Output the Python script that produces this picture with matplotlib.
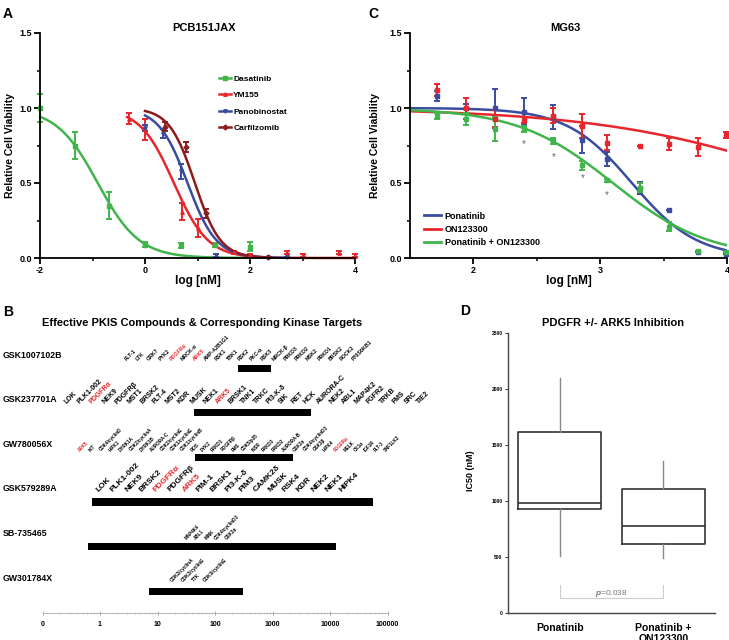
import numpy as np
import matplotlib.pyplot as plt
from matplotlib import transforms
from matplotlib.lines import Line2D

plt.rcParams['font.family'] = ['Liberation Sans', 'DejaVu Sans']
plt.rcParams['font.weight'] = 'bold'
plt.rcParams['axes.labelweight'] = 'bold'
plt.rcParams['axes.unicode_minus'] = False
plt.rcParams['mathtext.fontset'] = 'custom'
plt.rcParams['mathtext.it'] = 'Liberation Sans:italic'
plt.rcParams['mathtext.rm'] = 'Liberation Sans'

W, H = 729, 640

# ---- panel A: PCB151JAX dose response ----
a_drugs = ['Dasatinib', 'YM155', 'Panobinostat', 'Carfilzomib']
a_colors = ['#3fb54b', '#e8262b', '#3a4ca0', '#8b1d1f']
a_markers = ['s', '^', 'v', 'D']
a_logic50 = [-0.9, 0.55, 0.81, 0.95]
a_hill = [1.1, 1.34, 1.58, 1.78]
a_curve_lo = [-2.0, -0.34, 0.0, 0.0]
a_curve_hi = [2.0, 4.0, 2.7, 2.4]
a_x = [[-2, -1.33, -0.69, 0, 0.68, 1.34, 2],
       [-0.3, 0, 0.7, 1.0, 1.7, 2.0, 2.7, 3.0, 3.7, 4.0],
       [0, 0.35, 0.68, 1.35, 2.35, 2.7],
       [0.38, 0.78, 1.17, 2.35]]
a_y = [[1.0, 0.75, 0.35, 0.09, 0.085, 0.085, 0.075],
       [0.93, 0.86, 0.31, 0.2, 0.04, 0.02, 0.035, 0.02, 0.035, 0.015],
       [0.87, 0.83, 0.58, 0.02, 0.005, 0.005],
       [0.875, 0.74, 0.3, 0.005]]
a_err = [[0.095, 0.09, 0.09, 0.015, 0.015, 0.012, 0.03],
         [0.035, 0.07, 0.055, 0.06, 0.01, 0.01, 0.01, 0.01, 0.01, 0.01],
         [0.02, 0.03, 0.05, 0.01, 0, 0],
         [0.03, 0.035, 0.03, 0]]

# ---- panel C: MG63 dose response ----
c_drugs = ['Ponatinib', 'ON123300', 'Ponatinib + ON123300']
c_colors = ['#3a4ca0', '#e8262b', '#3fb54b']
c_logic50 = [3.25, 4.8, 3.1]
c_hill = [1.7, 0.5, 1.15]
c_x = [1.71, 1.94, 2.17, 2.4, 2.63, 2.86, 3.05, 3.31, 3.54, 3.77, 3.99]
c_y = [[1.08, 1.0, 1.0, 0.975, 0.94, 0.79, 0.66, 0.47, 0.32, 0.04, 0.03],
       [1.12, 1.0, 0.93, 0.92, 0.95, 0.88, 0.77, 0.75, 0.76, 0.74, 0.82],
       [0.95, 0.93, 0.86, 0.86, 0.78, 0.62, 0.52, 0.47, 0.21, 0.05, 0.04]]
c_err = [[0.03, 0.03, 0.13, 0.09, 0.08, 0.09, 0.045, 0.04, 0, 0, 0],
         [0.04, 0.07, 0.06, 0.02, 0.05, 0.08, 0.05, 0, 0.04, 0.06, 0.02],
         [0.02, 0.04, 0.08, 0.02, 0.02, 0.03, 0.01, 0.03, 0.03, 0, 0]]
star_x = [2.4, 2.63, 2.86, 3.05]
star_y = [0.76, 0.67, 0.53, 0.42]

# ---- panel B: effective PKIS compounds ----
compounds = ['GSK1007102B', 'GSK237701A', 'GW780056X', 'GSK579289A', 'SB-735465', 'GW301784X']
range_lo = [250, 43, 45, 0.72, 0.62, 7.1]
range_hi = [940, 4700, 2280, 56000, 12700, 310]
kinases = [
    ['FLT-1', 'LTK', 'GRK7', 'PYK2', 'PDGFRα', 'MRCK-α', 'ARK5', 'AMP-A2B1G1', 'RSK1', 'TBK1',
     'RSK2', 'PKC-α', 'RSK3', 'MRCK-β', 'PRKD3', 'PRKD2', 'MSK2', 'PRKD1', 'BRSK2', 'ROCK2', 'P70S6KB1'],
    ['LOK', 'PLK1-002', 'PDGFRα', 'NEK9', 'PDGFRβ', 'MST1', 'BRSK2', 'FLT-4', 'MST2', 'KDR',
     'MUSK', 'NEK1', 'ARK5', 'BRSK1', 'TNK1', 'TRKC', 'PI3-K-δ', 'SIK', 'RET', 'HCK',
     'AURORA-C', 'NEK2', 'ABL1', 'MAP4K2', 'FGFR2', 'TRKB', 'FMS', 'SRC', 'TIE2'],
    ['ARK5', 'KIT', 'CDK4/cyclinD', 'HIPK1', 'DYRK1A', 'CDK2/cyclinA', 'DYRK1B', 'AURORA-C',
     'CDK2/cyclinE', 'CDK1/cyclinE', 'CDK1/cyclinB', 'ROS', 'PYK2', 'PRKD1', 'PDGFRβ', 'FMS',
     'CDK5/p35', 'INSR', 'PRKD3', 'PRKD2', 'AURORA-B', 'GSK3α', 'CDK4/cyclinD3', 'GSK3β',
     'HIPK4', 'PDGFRα', 'MELK', 'CK1α', 'IGF1R', 'FLT-3', 'SNF1LK2'],
    ['LOK', 'PLK1-002', 'NEK9', 'BRSK2', 'PDGFRα', 'PDGFRβ', 'ARK5', 'PIM-1', 'BRSK1',
     'PI3-K-δ', 'PIM3', 'CAMK2δ', 'MUSK', 'RSK4', 'KDR', 'NEK2', 'NEK1', 'HIPK4'],
    ['MAP4K4', 'ABL1', 'MINK', 'CDK4/cyclinD3', 'GSK3α'],
    ['CDK2/cyclinA', 'CDK2/cyclinE', 'TTK', 'CDK3/cyclinE'],
]
highlight = ['PDGFRα', 'ARK5']
b_ticks = [0.1, 1, 10, 100, 1000, 10000, 100000]
b_ticklabels = ['0', '1', '10', '100', '1000', '10000', '100000']

# ---- panel D: IC50 box plot ----
d_groups = ['Ponatinib', 'Ponatinib +\nON123300']
d_q1 = [930, 615]
d_med = [985, 780]
d_q3 = [1615, 1110]
d_lo = [510, 490]
d_hi = [2100, 1360]
p_text = r'$\it{p}$=0.038'


def hill(x, logic50, h):
    return 1.0 / (1.0 + 10 ** ((x - logic50) * h))


fig = plt.figure(figsize=(W / 100, H / 100), dpi=100)


def px_axes(l, t, r, b):
    return fig.add_axes([l / W, 1 - b / H, (r - l) / W, (b - t) / H])


def ftext(x, y, s, **kw):
    fig.text(x / W, 1 - y / H, s, **kw)


def style_curve_axes(ax):
    for s in ['top', 'right']:
        ax.spines[s].set_visible(False)
    for s in ['left', 'bottom']:
        ax.spines[s].set_linewidth(1.3)
    ax.tick_params(which='major', length=4, width=1.3, labelsize=6.5, pad=2)
    ax.tick_params(which='minor', length=2.5, width=1.1)
    ax.set_ylim(0, 1.5)
    ax.set_yticks([0, 0.5, 1.0, 1.5])
    ax.set_yticklabels(['0.0', '0.5', '1.0', '1.5'])
    ax.set_yticks([0.25, 0.75, 1.25], minor=True)
    ax.set_ylabel('Relative Cell Viability', fontsize=7.5)
    ax.set_xlabel('log [nM]', fontsize=8.5, labelpad=0)


# A
axA = px_axes(40, 33, 355, 258)
handles = []
for i, drug in enumerate(a_drugs):
    xs = np.linspace(a_curve_lo[i], a_curve_hi[i], 200)
    axA.plot(xs, hill(xs, a_logic50[i], a_hill[i]), color=a_colors[i], lw=1.8, clip_on=False)
    axA.errorbar(a_x[i], a_y[i], yerr=a_err[i], fmt=a_markers[i], ms=2.5, color=a_colors[i],
                 elinewidth=1.4, capsize=2, capthick=1.4, clip_on=False)
    handles.append(Line2D([], [], color=a_colors[i], lw=1.8, marker=a_markers[i], ms=2.5))
axA.set_xlim(-2, 4)
axA.set_xticks([-2, 0, 2, 4])
axA.set_xticks([-1, 1, 3], minor=True)
style_curve_axes(axA)
axA.yaxis.set_label_coords(-0.08, 0.5)
axA.legend(handles, a_drugs, loc='upper left', bbox_to_anchor=(0.555, 0.83), frameon=False,
           fontsize=6, handlelength=1.4, handletextpad=0.3, labelspacing=1.0, borderpad=0)
ftext(204, 28, 'PCB151JAX', fontsize=8, ha='center', va='center')
ftext(3, 14, 'A', fontsize=10, ha='left', va='center')

# C
axC = px_axes(410, 33, 727, 258)
xs = np.linspace(1.5, 4, 200)
handles = []
for i, drug in enumerate(c_drugs):
    axC.plot(xs, hill(xs, c_logic50[i], c_hill[i]), color=c_colors[i], lw=1.8)
    axC.errorbar(c_x, c_y[i], yerr=c_err[i], fmt='s', ms=2.2, color=c_colors[i],
                 elinewidth=1.4, capsize=2, capthick=1.4, clip_on=False)
    handles.append(Line2D([], [], color=c_colors[i], lw=2))
for sx, sy in zip(star_x, star_y):
    axC.text(sx, sy, '*', color='#666666', fontsize=7, ha='center', va='center', weight='normal')
axC.set_xlim(1.5, 4)
axC.set_xticks([2, 3, 4])
axC.set_xticks([2.5, 3.5], minor=True)
style_curve_axes(axC)
axC.yaxis.set_label_coords(-0.095, 0.5)
axC.legend(handles, c_drugs, loc='lower left', bbox_to_anchor=(0.03, 0.03), frameon=False,
           fontsize=6.5, handlelength=1.9, handletextpad=0.4, labelspacing=0.45, borderpad=0)
ftext(565, 28, 'MG63', fontsize=8, ha='center', va='center')
ftext(368, 14, 'C', fontsize=10, ha='left', va='center')

# B
axB = px_axes(42.5, 345, 387.5, 613)
rows = np.arange(len(compounds))
axB.barh(rows, np.array(range_hi) - np.array(range_lo), left=range_lo, height=0.16, color='black')
axB.set_xscale('log')
axB.set_xlim(0.1, 100000)
axB.set_ylim(5.49, -0.52)
axB.set_yticks([])
for s in ['top', 'right', 'left']:
    axB.spines[s].set_visible(False)
axB.spines['bottom'].set_color('#aaaaaa')
axB.spines['bottom'].set_linewidth(0.6)
axB.set_xticks(b_ticks)
axB.set_xticklabels(b_ticklabels)
axB.tick_params(axis='x', which='major', direction='inout', length=3, width=0.6, color='#999999',
                labelsize=5, pad=4)
axB.tick_params(axis='x', which='minor', direction='inout', length=1.5, width=0.5, color='#bbbbbb')

row_lab = transforms.blended_transform_factory(fig.transFigure, axB.transData)
kin_lab = transforms.blended_transform_factory(axB.transAxes, axB.transData)
# label layout per row: first label px, step px, font size, lift above bar px
lab_start = [127, 68, 81, 100, 187, 173]
lab_step = [11.35, 12.6, 10.2, 14.3, 10, 11]
lab_size = [3.8, 5.0, 3.3, 6.0, 3.3, 3.4]
lab_lift = [6, 7, 5, 9, 6, 8]
row_px = 44.6
for i, name in enumerate(compounds):
    axB.text(3 / W, i - 13 / row_px, name, transform=row_lab, fontsize=6.3, ha='left', va='center')
    for j, kin in enumerate(kinases[i]):
        xpx = lab_start[i] + j * lab_step[i]
        axB.text((xpx - 42.5) / 345, i - lab_lift[i] / row_px, kin, transform=kin_lab,
                 fontsize=lab_size[i], rotation=45, rotation_mode='anchor', ha='left', va='bottom',
                 color='#e8262b' if kin in highlight else 'black', clip_on=False)
ftext(202, 323, 'Effective PKIS Compounds & Corresponding Kinase Targets', fontsize=8,
      ha='center', va='center')
ftext(3, 312, 'B', fontsize=10, ha='left', va='center')

# D
axD = px_axes(508, 333, 715, 613)
stats = []
for i, g in enumerate(d_groups):
    stats.append(dict(label=g, q1=d_q1[i], med=d_med[i], q3=d_q3[i], whislo=d_lo[i], whishi=d_hi[i]))
axD.bxp(stats, positions=[1, 2], widths=0.8, showfliers=False, showcaps=False,
        boxprops=dict(color='#333333', lw=1.2), medianprops=dict(color='#333333', lw=1.2),
        whiskerprops=dict(color='#888888', lw=1.0))
axD.plot([1, 1, 2, 2], [250, 135, 135, 250], color='#cccccc', lw=0.8)
axD.text(1.5, 172, p_text, fontsize=6, color='#777777', ha='center', va='center', weight='normal')
axD.set_xlim(0.5, 2.5)
axD.set_ylim(0, 2500)
axD.set_yticks([0, 500, 1000, 1500, 2000, 2500])
for s in ['top', 'right']:
    axD.spines[s].set_visible(False)
for s in ['left', 'bottom']:
    axD.spines[s].set_color('#444444')
    axD.spines[s].set_linewidth(1.0)
axD.tick_params(axis='y', length=2, width=0.8, labelsize=3.5, pad=2, color='#444444')
axD.tick_params(axis='x', length=0, labelsize=7.5, pad=7)
axD.set_ylabel('IC50 (nM)', fontsize=6.5)
axD.yaxis.set_label_coords(-0.16, 0.51)
ftext(613, 323, 'PDGFR +/- ARK5 Inhibition', fontsize=8, ha='center', va='center')
ftext(460, 311, 'D', fontsize=10, ha='left', va='center')

fig.savefig('out.png', dpi=100, facecolor='white')
